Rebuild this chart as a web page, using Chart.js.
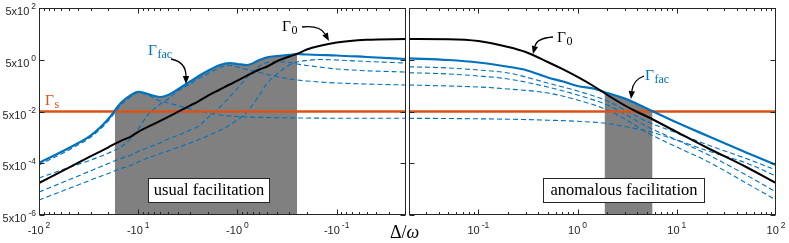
<!DOCTYPE html>
<html lang="en">
<head>
<meta charset="UTF-8">
<title>Facilitation rates</title>
<script src="https://cdn.jsdelivr.net/npm/chart.js@4"></script>
<style>
  body { margin: 0; background: #fff; }
  #wrap { position: relative; width: 789px; height: 243px; }
  #wrap canvas { position: absolute; left: 0; top: 0; }
</style>
</head>
<body>
<div id="wrap">
  <canvas id="left" width="789" height="243"></canvas>
  <canvas id="right" width="789" height="243"></canvas>
</div>
<script>
// ---- data (|Δ/ω| on the x axis, rates on the y axis) ----
// left panel: negative detuning, read from left (-10^2) to right (-10^-2)
const leftDelta = [100, 50, 30, 20, 15, 12, 10, 8, 6, 5, 4, 3, 2.5, 2, 1.5, 1.2, 1, 0.8, 0.6, 0.5, 0.4, 0.3, 0.25, 0.2, 0.15, 0.1, 0.05, 0.02];
const leftGamma0 = [8.63e-5, 3.40e-4, 9.35e-4, 2.07e-3, 3.66e-3, 5.26e-3, 8.22e-3, 0.0127, 0.0217, 0.0309, 0.0479, 0.0845, 0.121, 0.200, 0.354, 0.553, 0.782, 1.22, 2.10, 2.74, 4.37, 6.68, 8.5, 12.4, 17.0, 23.2, 29.5, 31.7];
const leftGammaFac = [5.12e-4, 1.94e-3, 5.91e-3, 0.0256, 0.107, 0.210, 0.290, 0.237, 0.182, 0.217, 0.354, 0.721, 1.13, 1.84, 3.13, 3.68, 3.43, 3.13, 4.89, 6.22, 6.98, 7.76, 8.34, 7.98, 7.63, 7.30, 6.38, 5.35];
const leftD1 = [4.28e-4, 1.63e-3, 5.18e-3, 0.0215, 0.0891, 0.182, 0.270, 0.217, 0.127, 0.107, 0.0853, 0.0625, 0.0523, 0.0438, 0.0366, 0.0335, 0.0320, 0.0306, 0.0298, 0.0293, 0.0288, 0.0286, 0.0281, 0.0279, 0.0277, 0.0275, 0.0273, 0.0273];
const leftD2 = [1.35e-4, 3.43e-4, 6.68e-4, 1.24e-3, 2.12e-3, 4.33e-3, 0.0105, 0.0366, 0.0975, 0.152, 0.310, 0.578, 0.902, 1.41, 2.51, 3.00, 2.62, 2.10, 1.62, 1.35, 1.13, 0.902, 0.824, 0.755, 0.690, 0.631, 0.578, 0.528];
const leftD3 = [3.87e-5, 1.14e-4, 2.58e-4, 4.89e-4, 7.63e-4, 1.01e-3, 1.42e-3, 2.01e-3, 3.03e-3, 4.33e-3, 5.91e-3, 9.64e-3, 0.01315, 0.0281, 0.0746, 0.182, 0.387, 1.03, 2.86, 3.92, 4.09, 3.92, 3.43, 3.00, 2.62, 2.20, 1.87, 1.68];
const leftD4 = [1.90e-5, 5.28e-5, 1.13e-4, 2.01e-4, 3.13e-4, 4.09e-4, 5.58e-4, 7.98e-4, 1.18e-3, 1.49e-3, 2.03e-3, 3.03e-3, 3.96e-3, 5.65e-3, 9.23e-3, 0.0150, 0.0235, 0.0479, 0.217, 0.631, 1.41, 3.13, 4.09, 4.68, 5.11, 4.89, 4.28, 3.74];
const leftShadeDelta = [17.2, 15, 12, 10, 8, 6, 5, 4, 3, 2.5, 2, 1.5, 1.2, 1, 0.8, 0.6, 0.5, 0.4, 0.3, 0.25];
const leftShade = [0.052, 0.107, 0.210, 0.290, 0.237, 0.182, 0.217, 0.354, 0.721, 1.13, 1.84, 3.13, 3.68, 3.43, 3.13, 4.89, 6.22, 6.98, 7.76, 8.34];

// right panel: positive detuning
const rightDelta = [0.02, 0.05, 0.1, 0.2, 0.3, 0.5, 0.7, 1, 1.5, 2, 3, 4, 5, 10, 20, 50, 100];
const rightGamma0 = [31.7, 31.1, 26.5, 15.6, 9.97, 4.09, 2.20, 1.08, 0.443, 0.217, 0.0853, 0.0479, 0.0321, 0.00807, 0.00203, 3.58e-4, 8.63e-5];
const rightGammaFac = [5.69, 4.89, 3.92, 2.69, 2.01, 1.03, 0.735, 0.484, 0.373, 0.259, 0.159, 0.0975, 0.0653, 0.0188, 0.00591, 0.00130, 4.28e-4];
const rightDashDelta = [0.02, 0.05, 0.1, 0.2, 0.5, 1, 2, 3, 5, 10, 20, 50, 100];
const rightD1 = [0.0273, 0.0268, 0.0261, 0.0252, 0.0231, 0.0209, 0.0172, 0.01315, 0.00881, 0.00396, 0.00156, 5.12e-4, 1.61e-4];
const rightD2 = [0.528, 0.484, 0.443, 0.371, 0.259, 0.139, 0.0571, 0.0256, 0.00771, 0.00212, 6.11e-4, 8.63e-5, 1.90e-5];
const rightD3 = [1.58, 1.41, 1.18, 0.902, 0.443, 0.217, 0.0891, 0.0400, 0.01315, 0.00396, 0.00114, 1.76e-4, 3.87e-5];
const rightD4 = [2.69, 2.40, 2.01, 1.54, 0.631, 0.310, 0.127, 0.0571, 0.0206, 0.00738, 0.00265, 7.63e-4, 2.74e-4];
const rightShadeDelta = [1.87, 2, 3, 4, 5, 5.7];
const rightShade = [0.284, 0.259, 0.159, 0.0975, 0.0653, 0.052];

// Γs is flat over both panels
const gammaSDelta = [0.02, 100];
const gammaS = [0.05, 0.05];

// axis ticks
const yTickValues = [5e2, 5e0, 5e-2, 5e-4, 5e-6];
const leftTickValues = [100, 10, 1, 0.1];
const rightTickValues = [0.1, 1, 10, 100];

// ---- styling ----
const BLUE = '#0072BD', ORANGE = '#D95319', GRAY = '#808080', INK = '#262626';
const SANS = '"Liberation Sans", Arial, sans-serif';
const SERIF = '"Liberation Serif", "Times New Roman", serif';

const pts = (xs, ys) => xs.map((x, i) => ({ x, y: ys[i] }));

function curve(xs, ys, color, width, dash) {
  return {
    data: pts(xs, ys), borderColor: color, borderWidth: width, borderDash: dash || [],
    pointRadius: 0, fill: false, cubicInterpolationMode: 'monotone'
  };
}

function shade(xs, ys) {
  return {
    data: pts(xs, ys), borderColor: 'rgba(0,0,0,0)', borderWidth: 0, backgroundColor: GRAY,
    pointRadius: 0, fill: 'start', cubicInterpolationMode: 'monotone'
  };
}

function powerLabel(ctx, prefix, exp, x, yBase, align) {
  ctx.font = '11px ' + SANS;
  const wb = ctx.measureText(prefix).width;
  ctx.font = '8.5px ' + SANS;
  const we = ctx.measureText(exp).width;
  const total = wb + 2 + we;
  const x0 = align === 'center' ? x - total / 2 : x - total;
  ctx.textAlign = 'left';
  ctx.fillStyle = INK;
  ctx.font = '11px ' + SANS;
  ctx.fillText(prefix, x0, yBase);
  ctx.font = '8.5px ' + SANS;
  ctx.fillText(exp, x0 + wb + 2, yBase - 6);
}

function drawBox(chart) {
  const { ctx, chartArea: a, scales: { x, y } } = chart;
  const L = Math.round(a.left) + 0.5, R = Math.round(a.right) - 0.5;
  const T = Math.round(a.top) + 0.5, B = Math.round(a.bottom) - 0.5;
  ctx.save();
  ctx.strokeStyle = INK;
  ctx.lineWidth = 1;
  ctx.beginPath();
  for (let e = -2; e <= 2; e++) {
    for (let m = 1; m < 10; m++) {
      const v = m * Math.pow(10, e);
      if (v <= x.min * 1.0001 || v >= x.max) continue;
      const px = Math.round(x.getPixelForValue(v)) + 0.5;
      const len = m === 1 ? 5 : 2.5;
      ctx.moveTo(px, B); ctx.lineTo(px, B - len);
      ctx.moveTo(px, T); ctx.lineTo(px, T + len);
    }
  }
  yTickValues.forEach(v => {
    const py = Math.round(y.getPixelForValue(v)) + 0.5;
    ctx.moveTo(L, py); ctx.lineTo(L + 5, py);
    ctx.moveTo(R, py); ctx.lineTo(R - 5, py);
  });
  ctx.stroke();
  ctx.strokeRect(L, T, R - L, B - T);
  ctx.restore();
}

function gammaText(ctx, x, y, sub, color, subSize) {
  ctx.save();
  ctx.fillStyle = color;
  ctx.textAlign = 'left';
  ctx.font = '15.5px ' + SERIF;
  ctx.fillText('Γ', x, y);
  const w = ctx.measureText('Γ').width;
  ctx.font = (subSize || 12) + 'px ' + SERIF;
  ctx.fillText(sub, x + w + 0.5, y + 3);
  ctx.restore();
}

function arrow(ctx, x0, y0, cx, cy, x1, y1) {
  const a = Math.atan2(y1 - cy, x1 - cx);
  const len = 8, half = 3.2;
  const bx = x1 - len * Math.cos(a), by = y1 - len * Math.sin(a);
  ctx.save();
  ctx.strokeStyle = '#000';
  ctx.fillStyle = '#000';
  ctx.lineWidth = 1.3;
  ctx.beginPath();
  ctx.moveTo(x0, y0);
  ctx.quadraticCurveTo(cx, cy, bx, by);
  ctx.stroke();
  ctx.beginPath();
  ctx.moveTo(x1, y1);
  ctx.lineTo(bx + half * Math.sin(a), by - half * Math.cos(a));
  ctx.lineTo(bx - half * Math.sin(a), by + half * Math.cos(a));
  ctx.closePath();
  ctx.fill();
  ctx.restore();
}

function textBox(ctx, text, left, top, right, bottom, baseline) {
  ctx.save();
  ctx.fillStyle = '#fff';
  ctx.strokeStyle = INK;
  ctx.lineWidth = 1;
  ctx.fillRect(left, top, right - left, bottom - top);
  ctx.strokeRect(left + 0.5, top + 0.5, right - left - 1, bottom - top - 1);
  ctx.fillStyle = '#000';
  ctx.font = '16.5px ' + SERIF;
  ctx.textAlign = 'center';
  ctx.fillText(text, (left + right) / 2, baseline);
  ctx.restore();
}

function makeChart(id, datasets, reverse, padding, draw) {
  return new Chart(document.getElementById(id), {
    type: 'line',
    data: { datasets },
    options: {
      responsive: false,
      animation: false,
      devicePixelRatio: 1,
      events: [],
      layout: { padding },
      plugins: { legend: { display: false }, tooltip: { enabled: false } },
      scales: {
        x: { type: 'logarithmic', min: 0.02, max: 100, reverse, display: false },
        y: { type: 'logarithmic', min: 5e-6, max: 500, display: false }
      }
    },
    plugins: [{ id: 'frame', afterDraw: draw }]
  });
}

// ---- left panel ----
makeChart('left', [
  curve(leftDelta, leftGamma0, '#000', 2),
  curve(leftDelta, leftGammaFac, BLUE, 2.2),
  curve(gammaSDelta, gammaS, ORANGE, 2.5),
  curve(leftDelta, leftD1, BLUE, 1.1, [5, 3]),
  curve(leftDelta, leftD2, BLUE, 1.1, [5, 3]),
  curve(leftDelta, leftD3, BLUE, 1.1, [5, 3]),
  curve(leftDelta, leftD4, BLUE, 1.1, [5, 3]),
  shade(leftShadeDelta, leftShade)
], true, { left: 39, right: 383, top: 8, bottom: 28 }, chart => {
  const { ctx, scales: { x, y } } = chart;
  drawBox(chart);
  leftTickValues.forEach(v => {
    powerLabel(ctx, '-10', String(Math.round(Math.log10(v))), x.getPixelForValue(v), 234, 'center');
  });
  yTickValues.forEach(v => {
    powerLabel(ctx, '5x10', String(Math.round(Math.log10(v / 5))), 36, y.getPixelForValue(v) + 7, 'right');
  });
  textBox(ctx, 'usual facilitation', 148, 178, 270, 203, 195);
  gammaText(ctx, 148, 55, 'fac', BLUE);
  arrow(ctx, 171, 59, 186, 62, 186, 84);
  gammaText(ctx, 282, 31, '0', '#000');
  arrow(ctx, 302, 27, 320, 25, 329, 41);
  gammaText(ctx, 45, 105, 's', ORANGE);
});

// ---- right panel ----
makeChart('right', [
  curve(rightDelta, rightGamma0, '#000', 2),
  curve(rightDelta, rightGammaFac, BLUE, 2.2),
  curve(gammaSDelta, gammaS, ORANGE, 2.5),
  curve(rightDashDelta, rightD1, BLUE, 1.1, [5, 3]),
  curve(rightDashDelta, rightD2, BLUE, 1.1, [5, 3]),
  curve(rightDashDelta, rightD3, BLUE, 1.1, [5, 3]),
  curve(rightDashDelta, rightD4, BLUE, 1.1, [5, 3]),
  shade(rightShadeDelta, rightShade)
], false, { left: 409, right: 13, top: 8, bottom: 28 }, chart => {
  const { ctx, scales: { x } } = chart;
  drawBox(chart);
  rightTickValues.forEach(v => {
    powerLabel(ctx, '10', String(Math.round(Math.log10(v))), x.getPixelForValue(v), 234, 'center');
  });
  textBox(ctx, 'anomalous facilitation', 543, 178, 705, 203, 195);
  gammaText(ctx, 557, 42, '0', '#000');
  arrow(ctx, 553, 37, 537, 38, 533, 54);
  gammaText(ctx, 645, 80, 'fac', BLUE);
  arrow(ctx, 644, 76, 633, 80, 631, 99);
  // axis title Δ/ω between the panels
  ctx.save();
  ctx.fillStyle = '#000';
  ctx.textAlign = 'left';
  ctx.font = '18px ' + SERIF;
  ctx.fillText('Δ/', 390, 238);
  const w = ctx.measureText('Δ/').width;
  ctx.font = 'italic 18px ' + SERIF;
  ctx.fillText('ω', 390 + w, 238);
  ctx.restore();
});
</script>
</body>
</html>
